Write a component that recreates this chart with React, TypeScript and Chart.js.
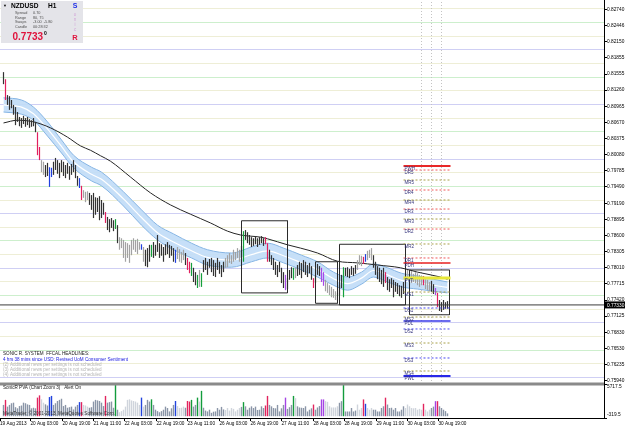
import React, { useEffect, useRef } from 'react';
import { Chart, registerables } from 'chart.js';

Chart.register(...registerables);

const FONT = '"Liberation Sans", Arial, sans-serif';

// ---------- axes ----------
const X_MIN = -1.75;
const X_MAX = 300.25;
const Y_MAX = 0.8291;
const Y_MIN = 0.75883;
const VOL_MIN = -319.5;
const VOL_MAX = 5717.5;
const ROUND_STEP = 0.0025;

const priceTicks = [
  0.8274, 0.82446, 0.8215, 0.81855, 0.81555, 0.8126, 0.80965, 0.8067, 0.80375, 0.8008,
  0.79785, 0.7949, 0.7919, 0.78895, 0.786, 0.78305, 0.7801, 0.77715, 0.7742, 0.77125,
  0.7683, 0.7653, 0.76235, 0.7594,
];
const volTicks = [VOL_MIN, VOL_MAX];
const firstTimeLabel = '19 Aug 2013';
const timeTickIdx = [13.5, 29.5, 45, 60.5, 76.5, 92, 108, 123.5, 139, 155, 170.5, 186.5, 202, 217.5];
const timeTickLabels = [
  '20 Aug 03:00', '20 Aug 19:00', '21 Aug 11:00', '22 Aug 03:00', '22 Aug 19:00', '23 Aug 11:00',
  '26 Aug 03:00', '26 Aug 19:00', '27 Aug 11:00', '28 Aug 03:00', '28 Aug 19:00', '29 Aug 11:00',
  '30 Aug 03:00', '30 Aug 19:00',
];

// ---------- H1 bars (one per hour, index 0 = first bar) ----------
const barHigh = [
  0.8159, 0.8146, 0.8117, 0.8115, 0.8108, 0.8099, 0.8095, 0.8086, 0.8077, 0.8075,
  0.8079, 0.8075, 0.8077, 0.8073, 0.8071, 0.8075, 0.8068, 0.8049, 0.8022, 0.7998,
  0.7995, 0.7989, 0.7993, 0.7985, 0.7984, 0.7995, 0.8002, 0.7998, 0.7993, 0.7998,
  0.7995, 0.7989, 0.7993, 0.7987, 0.7991, 0.7998, 0.7989, 0.7969, 0.7965, 0.7951,
  0.7943, 0.794, 0.7941, 0.7938, 0.7934, 0.7938, 0.793, 0.7929, 0.7932, 0.7925,
  0.792, 0.7903, 0.7894, 0.789, 0.7892, 0.7888, 0.789, 0.7879, 0.7857, 0.7855,
  0.7852, 0.7848, 0.7846, 0.7843, 0.7852, 0.7855, 0.7852, 0.7854, 0.7848, 0.7844,
  0.7839, 0.7834, 0.7837, 0.7843, 0.7843, 0.7848, 0.7843, 0.7861, 0.7846, 0.7844,
  0.7839, 0.7844, 0.7848, 0.7843, 0.7841, 0.7837, 0.7834, 0.7839, 0.7835, 0.783,
  0.7834, 0.7828, 0.7819, 0.7812, 0.781, 0.7801, 0.7793, 0.7788, 0.7797, 0.7791,
  0.7815, 0.7819, 0.7812, 0.7817, 0.7819, 0.7815, 0.781, 0.7819, 0.7812, 0.7806,
  0.7812, 0.7819, 0.7824, 0.7828, 0.7824, 0.7834, 0.783, 0.7837, 0.7834, 0.7841,
  0.7868, 0.787, 0.7866, 0.7861, 0.7857, 0.7855, 0.7859, 0.7855, 0.7857, 0.7859,
  0.7855, 0.7857, 0.7846, 0.7834, 0.7824, 0.7819, 0.7812, 0.7806, 0.7812, 0.7801,
  0.7793, 0.7788, 0.7782, 0.7797, 0.7802, 0.7801, 0.7801, 0.7806, 0.7812, 0.781,
  0.7815, 0.7812, 0.7806, 0.781, 0.7804, 0.7782, 0.7788, 0.7808, 0.7804, 0.7801,
  0.7793, 0.7779, 0.7773, 0.7769, 0.7766, 0.7762, 0.7758, 0.7755, 0.7769, 0.7788,
  0.7802, 0.7801, 0.7802, 0.7799, 0.7804, 0.7801, 0.7806, 0.7815, 0.7824, 0.7823,
  0.7821, 0.7826, 0.7832, 0.7834, 0.7837, 0.7824, 0.7812, 0.7804, 0.7801, 0.7797,
  0.7801, 0.7793, 0.7784, 0.778, 0.7782, 0.7779, 0.7775, 0.7773, 0.7769, 0.7768,
  0.7775, 0.7793, 0.7797, 0.7791, 0.7795, 0.779, 0.7793, 0.7791, 0.7788, 0.7786,
  0.7786, 0.778, 0.7779, 0.7775, 0.7777, 0.7771, 0.7764, 0.7755, 0.7742, 0.7738,
  0.7742, 0.7738, 0.774,
];
const barLow = [
  0.8137, 0.8108, 0.8099, 0.809, 0.8093, 0.8081, 0.8062, 0.8068, 0.806, 0.8057,
  0.8064, 0.8059, 0.8062, 0.8057, 0.8059, 0.806, 0.8049, 0.8007, 0.7998, 0.7976,
  0.7971, 0.7967, 0.7969, 0.7949, 0.7967, 0.7971, 0.798, 0.7973, 0.7965, 0.7976,
  0.7969, 0.7965, 0.7973, 0.7962, 0.7971, 0.7976, 0.7965, 0.7951, 0.7947, 0.7925,
  0.7929, 0.7921, 0.7925, 0.7916, 0.7907, 0.7892, 0.7898, 0.7903, 0.7888, 0.7892,
  0.7898, 0.7883, 0.787, 0.7866, 0.7874, 0.7868, 0.7872, 0.7846, 0.7834, 0.7837,
  0.7819, 0.7812, 0.7819, 0.781, 0.7824, 0.7834, 0.783, 0.7826, 0.7834, 0.7834,
  0.7812, 0.7804, 0.7802, 0.7812, 0.7821, 0.7819, 0.7823, 0.783, 0.7819, 0.7823,
  0.7812, 0.7824, 0.7826, 0.7819, 0.7823, 0.7812, 0.781, 0.7817, 0.7812, 0.781,
  0.7815, 0.7806, 0.7797, 0.7791, 0.7786, 0.7775, 0.7769, 0.7764, 0.7766, 0.7766,
  0.7793, 0.7797, 0.7788, 0.7801, 0.7793, 0.7786, 0.7784, 0.7797, 0.779, 0.7784,
  0.7793, 0.7801, 0.7802, 0.781, 0.7808, 0.7812, 0.7815, 0.7819, 0.7812, 0.7819,
  0.7812, 0.7852, 0.7846, 0.7843, 0.7839, 0.7841, 0.7844, 0.7839, 0.7843, 0.7846,
  0.7841, 0.7844, 0.7812, 0.7812, 0.7806, 0.7797, 0.7788, 0.7784, 0.7793, 0.7773,
  0.7764, 0.776, 0.7762, 0.7779, 0.7782, 0.7779, 0.7782, 0.7786, 0.7788, 0.7782,
  0.7793, 0.7788, 0.7784, 0.7791, 0.7779, 0.7764, 0.7773, 0.7788, 0.7786, 0.7775,
  0.7768, 0.7758, 0.7755, 0.7751, 0.7747, 0.7746, 0.7742, 0.774, 0.7751, 0.7764,
  0.7747, 0.7786, 0.7784, 0.7782, 0.7788, 0.7786, 0.779, 0.7797, 0.7806, 0.7804,
  0.7808, 0.7812, 0.7815, 0.7819, 0.7815, 0.7801, 0.7788, 0.778, 0.7775, 0.7771,
  0.7766, 0.7773, 0.776, 0.7757, 0.7764, 0.7747, 0.7757, 0.7753, 0.7749, 0.7746,
  0.7753, 0.7773, 0.7779, 0.7769, 0.7773, 0.7775, 0.7773, 0.7769, 0.7766, 0.7769,
  0.7769, 0.7762, 0.776, 0.7758, 0.7757, 0.7753, 0.7751, 0.7729, 0.7722, 0.772,
  0.7724, 0.7726, 0.7726,
];
// PVA class per bar: n normal, l light, r red climax, g green climax, b blue, p purple
const barClass =
  'nrnnnnnnnn' + 'nnnnnnnrrl' + 'lnnbbnnnnn' + 'nnnnnnnnbr' + 'lllnnnnnnn' +
  'nrnnnngnll' + 'lllllllllb' + 'lnnngnnnnn' + 'nnnnnnblll' + 'lnrrgnnglg' +
  'nnnnnnnnnn' + 'nlllllllln' + 'gnnnnnnnnn' + 'nrrnnnnnnn' + 'npnnnglnnn' +
  'nnnnnrnnnp' + 'plllllllnn' + 'gnnnnnnlll' + 'rblllnnnnn' + 'nrnnnnnnnn' +
  'nlllllllll' + 'rlllnnprnn' + 'nnn';
const volume = [
  2000, 2900, 1700, 2000, 2300, 2400, 1600, 1400, 1800, 1900,
  2400, 2300, 2100, 2000, 1400, 1500, 1400, 3300, 3700, 3000,
  2400, 2100, 1900, 3400, 3600, 2000, 2300, 2700, 2900, 3100,
  1800, 2000, 1500, 1600, 1700, 1200, 1700, 2000, 2500, 2500,
  2000, 1900, 1700, 1500, 1600, 2600, 2900, 2800, 2700, 2400,
  1800, 3600, 2400, 2500, 2600, 1500, 5650, 1150, 700, 900,
  1150, 1700, 2900, 3000, 2800, 2700, 2600, 2400, 2000, 3300,
  1700, 2000, 2900, 2600, 3000, 2000, 1150, 900, 700, 900,
  1150, 1700, 1450, 850, 1400, 2000, 2700, 1800, 1450, 1500,
  1700, 1500, 2700, 2600, 2900, 1700, 2000, 3300, 2600, 4500,
  1500, 1000, 850, 1150, 600, 800, 850, 1450, 1150, 1650,
  1200, 1100, 1450, 1000, 1450, 1300, 850, 1150, 1450, 1650,
  2500, 1750, 1150, 1500, 1750, 1450, 1700, 1100, 1150, 1750,
  1450, 1900, 3600, 2000, 1750, 1450, 1400, 2000, 850, 1400,
  2000, 3300, 1300, 1600, 2000, 3600, 3200, 1750, 1550, 1500,
  1460, 1760, 840, 1150, 1400, 2070, 1150, 1550, 1800, 2980,
  2980, 2670, 2550, 1760, 1550, 1550, 1550, 1760, 2380, 2670,
  5700, 840, 840, 840, 1460, 840, 1000, 2070, 1150, 1460,
  2980, 2200, 1460, 1150, 1460, 1150, 1150, 840, 840, 1460,
  1760, 3290, 2070, 1460, 1500, 1150, 1460, 840, 840, 1150,
  1760, 1460, 2070, 1760, 1460, 1400, 1460, 1150, 1300, 1150,
  2200, 1150, 840, 1150, 1460, 1700, 2670, 2670, 1760, 1460,
  1150, 900, 500,
];
const currentPrice = 0.7733;

// ---------- long moving average (black) ----------
const maIdx = [0, 7, 15, 23.5, 32, 38.5, 43.5, 48.5, 53.5, 63.5, 73.5, 83.5, 93.5, 103.5, 112, 118.5, 128.5, 132, 142, 148.5, 157, 167, 177, 187, 198.5, 207, 218.5, 222];
const maVal = [0.8066, 0.8071, 0.8068, 0.8057, 0.804, 0.8024, 0.8016, 0.8006, 0.7996, 0.7967, 0.7938, 0.7916, 0.7899, 0.7883, 0.7868, 0.7861, 0.7857, 0.7854, 0.7843, 0.7837, 0.7828, 0.7813, 0.781, 0.7806, 0.7801, 0.7793, 0.7784, 0.778];

// ---------- dragon band (EMA high / close / low) ----------
const bandIdx = [0, 9, 15, 22, 29, 35, 44, 49, 60, 69, 77, 85, 94, 102, 114, 124, 132, 140, 149, 157, 165, 172, 179, 185, 192, 199, 207, 215, 222];
const bandUpper = [0.8112, 0.8108, 0.8095, 0.8068, 0.8035, 0.8007, 0.7985, 0.7976, 0.794, 0.7907, 0.7879, 0.7863, 0.7846, 0.7834, 0.7828, 0.7839, 0.7846, 0.7837, 0.7824, 0.7812, 0.7793, 0.7784, 0.7793, 0.7808, 0.7801, 0.7791, 0.7786, 0.778, 0.7775];
const bandMid = [0.8099, 0.8095, 0.8083, 0.8055, 0.8023, 0.7995, 0.7972, 0.7963, 0.7927, 0.7893, 0.7865, 0.7848, 0.7832, 0.782, 0.7815, 0.7825, 0.7832, 0.7823, 0.781, 0.7798, 0.7781, 0.7772, 0.7782, 0.7796, 0.7788, 0.7778, 0.7774, 0.7769, 0.7765];
const bandLower = [0.8086, 0.8082, 0.8071, 0.8042, 0.8011, 0.7984, 0.796, 0.7951, 0.7914, 0.7879, 0.7852, 0.7834, 0.7819, 0.7806, 0.7802, 0.7812, 0.7819, 0.781, 0.7797, 0.7784, 0.7769, 0.776, 0.7771, 0.7784, 0.7775, 0.7766, 0.7762, 0.7758, 0.7755];

// ---------- consolidation boxes ----------
const boxStart = [119, 156, 168, 203];
const boxEnd = [142, 167, 201, 223];
const boxTop = [0.7887, 0.7812, 0.7844, 0.7797];
const boxBottom = [0.7755, 0.7736, 0.7733, 0.7715];

// ---------- daily / weekly pivot levels ----------
const levelStart = 200;
const levelEnd = 223.5;
const levelNames = ['PWH', 'DR5', 'MR5', 'DR4', 'MR4', 'DR3', 'MR3', 'DR2', 'MR2', 'DR1', 'PDH', 'PVT', 'MS1', 'DS1', 'MS2', 'PDL', 'DS2', 'MS3', 'DS3', 'MS4', 'PWL'];
const levelValues = [0.79872, 0.79799, 0.79616, 0.79433, 0.7925, 0.79085, 0.78902, 0.78719, 0.78445, 0.78189, 0.78097, 0.77823, 0.77566, 0.77274, 0.77109, 0.77036, 0.7689, 0.76633, 0.76359, 0.76121, 0.76029];
const levelKinds = ['wh', 'dr', 'mr', 'dr', 'mr', 'dr', 'mr', 'dr', 'mr', 'dr', 'pdh', 'pvt', 'ms', 'ds', 'ms', 'pdl', 'ds', 'ms', 'ds', 'ms', 'wl'];
const newsLineIdx = [209, 214, 219];

// ---------- texts ----------
const infoSymbol = 'NZDUSD';
const infoPeriod = 'H1';
const infoRows = [['Spread', '0.70'], ['Range', '80, 75'], ['Swaps', '-3.00  -5.80'], ['Candle', '00:28:32']];
const infoPrice = '0.7733';
const infoPriceLast = '0';
const sonicLetters = ['S', 'o', 'n', 'i', 'c', 'R'];
const headlineTitle = 'SONIC R. SYSTEM  FFCAL HEADLINES:';
const headlineMain = '4 hrs 38 mins since USD: Revised UoM Consumer Sentiment';
const headlineOthers = [
  '(2) Additional news per settings is not scheduled',
  '(3) Additional news per settings is not scheduled',
  '(4) Additional news per settings is not scheduled',
];
const volTitle = 'SonicR PVA (Chart Zoom 3)   Alert On';
const copyright = 'MetaTrader, \u00a9 2001-2013, MetaQuotes Software Corp.';

// ---------- styles ----------
const mainColors: Record<string, string> = { n: '#333333', l: '#a2a2a2', r: '#e2205e', g: '#14a03c', b: '#2040e0', p: '#a848ea' };
const volColors: Record<string, string> = { n: '#8a95a7', l: '#cfd4dc', r: '#e2245e', g: '#139c3c', b: '#2244dd', p: '#a444e4' };
const levelStyle: Record<string, { c: string; w: number; d: number[] }> = {
  wh: { c: '#e82828', w: 2, d: [] },
  dr: { c: '#f05a5a', w: 1, d: [2, 2] },
  mr: { c: '#a8a048', w: 1, d: [2, 2] },
  pdh: { c: '#e82020', w: 1.5, d: [] },
  pvt: { c: '#e8e838', w: 3, d: [] },
  ms: { c: '#a8a048', w: 1, d: [2, 2] },
  ds: { c: '#4848f0', w: 1, d: [2, 2] },
  pdl: { c: '#3838e8', w: 1.5, d: [] },
  wl: { c: '#2828e8', w: 2, d: [] },
};
const roundColor = (k: number) => (k % 4 === 0 ? '#cfcff4' : k % 4 === 2 ? '#cdefcd' : '#eeeed6');

const lineBase = { type: 'line' as const, pointRadius: 0, pointHitRadius: 0, fill: false, xAxisID: 'x', yAxisID: 'y' };

function buildDatasets(): any[] {
  const ds: any[] = [];
  levelNames.forEach((name, k) => {
    const st = levelStyle[levelKinds[k]];
    ds.push({ ...lineBase, label: name, data: [{ x: levelStart, y: levelValues[k] }, { x: levelEnd, y: levelValues[k] }], borderColor: st.c, borderWidth: st.w, borderDash: st.d, order: 1 });
  });
  boxStart.forEach((s, k) => {
    const e = boxEnd[k], t = boxTop[k], b = boxBottom[k];
    ds.push({ ...lineBase, label: 'box' + k, data: [{ x: s, y: t }, { x: e, y: t }, { x: e, y: b }, { x: s, y: b }, { x: s, y: t }], borderColor: '#2a2a2a', borderWidth: 1, order: 2 });
  });
  ds.push({ ...lineBase, label: 'bid', data: [{ x: X_MIN, y: currentPrice }, { x: X_MAX, y: currentPrice }], borderColor: '#3c3c3c', borderWidth: 1, order: 2 });
  ds.push({
    type: 'bar', label: 'price', xAxisID: 'x', yAxisID: 'y',
    data: barHigh.map((h, i) => ({ x: i, y: [barLow[i], h] })),
    backgroundColor: (c: any) => mainColors[barClass[c.dataIndex]] || mainColors.n,
    barThickness: 1.2, grouped: false, borderWidth: 0, inflateAmount: 0, order: 3,
  });
  ds.push({
    type: 'bar', label: 'volume', xAxisID: 'x', yAxisID: 'yVol',
    data: volume.map((v, i) => ({ x: i, y: v })),
    backgroundColor: (c: any) => volColors[barClass[c.dataIndex]] || volColors.n,
    barThickness: 1.4, grouped: false, borderWidth: 0, inflateAmount: 0, order: 3,
  });
  ds.push({ ...lineBase, label: 'ma', data: maIdx.map((x, k) => ({ x, y: maVal[k] })), borderColor: '#262626', borderWidth: 1, cubicInterpolationMode: 'monotone', order: 4 });
  ds.push({ ...lineBase, label: 'mid', data: bandIdx.map((x, k) => ({ x, y: bandMid[k] })), borderColor: '#ffffff', borderWidth: 1.2, cubicInterpolationMode: 'monotone', order: 5 });
  ds.push({ ...lineBase, label: 'upper', data: bandIdx.map((x, k) => ({ x, y: bandUpper[k] })), borderColor: '#86b5e4', borderWidth: 1, cubicInterpolationMode: 'monotone', fill: '+1', backgroundColor: 'rgba(192,219,247,0.9)', order: 7 });
  ds.push({ ...lineBase, label: 'lower', data: bandIdx.map((x, k) => ({ x, y: bandLower[k] })), borderColor: '#86b5e4', borderWidth: 1, cubicInterpolationMode: 'monotone', order: 6 });
  newsLineIdx.forEach((x, k) => {
    ds.push({ ...lineBase, label: 'news' + k, data: [{ x, y: Y_MIN }, { x, y: Y_MAX }], borderColor: '#c4c4c4', borderWidth: 1, borderDash: [1, 2], order: 9 });
  });
  return ds;
}

const overlay = {
  id: 'overlay',
  afterDraw(chart: any) {
    const { ctx, scales, chartArea } = chart;
    const xs = scales.x, ys = scales.y, vs = scales.yVol;
    ctx.save();
    ctx.textAlign = 'left';

    ctx.font = `4.5px ${FONT}`;
    ctx.fillStyle = '#34347c';
    ctx.textBaseline = 'top';
    const lx = xs.getPixelForValue(levelStart) + 1;
    levelNames.forEach((n, k) => ctx.fillText(n, lx, ys.getPixelForValue(levelValues[k]) + 0.5));

    ctx.textBaseline = 'middle';
    ctx.font = `4.6px ${FONT}`;
    ctx.fillStyle = '#1a1a1a';
    ctx.fillText(headlineTitle, 3, 354);
    ctx.fillStyle = '#1a1ae0';
    ctx.fillText(headlineMain, 3, 360);
    ctx.fillStyle = '#b4b4b4';
    headlineOthers.forEach((t, k) => ctx.fillText(t, 3, 365 + k * 5));

    ctx.fillStyle = '#8a8a8a';
    ctx.fillRect(chartArea.left, vs.top - 1.5, chartArea.width, 3);

    ctx.font = `4.6px ${FONT}`;
    ctx.fillStyle = '#1a1a1a';
    ctx.fillText(volTitle, 3, vs.top + 4);
    ctx.fillStyle = '#333333';
    ctx.fillText(copyright, 3, vs.bottom - 4);

    const py = ys.getPixelForValue(currentPrice);
    ctx.fillStyle = '#000';
    ctx.fillRect(ys.left, py - 3.5, ys.width, 7);
    ctx.fillStyle = '#fff';
    ctx.font = `4.8px ${FONT}`;
    ctx.fillText(currentPrice.toFixed(5), ys.left + 3, py + 0.3);

    ctx.fillStyle = '#e4e4e9';
    ctx.fillRect(1, 1, 82, 42);
    ctx.fillStyle = '#000';
    ctx.font = `bold 4px ${FONT}`;
    ctx.fillText('\u25BC', 3, 5.5);
    ctx.font = `bold 6.6px ${FONT}`;
    ctx.fillText(infoSymbol, 11, 5.8);
    ctx.fillText(infoPeriod, 48, 5.8);
    ctx.font = `3.8px ${FONT}`;
    ctx.fillStyle = '#505050';
    infoRows.forEach((r, k) => {
      ctx.fillText(r[0], 15, 13.3 + k * 4.5);
      ctx.fillText(r[1], 33, 13.3 + k * 4.5);
    });
    ctx.fillStyle = '#e0123c';
    ctx.font = `bold 10px ${FONT}`;
    ctx.fillText(infoPrice, 12.5, 37);
    const pw = ctx.measureText(infoPrice).width;
    ctx.fillStyle = '#000';
    ctx.font = `bold 5px ${FONT}`;
    ctx.fillText(infoPriceLast, 12.5 + pw + 1, 33.5);
    ctx.textAlign = 'center';
    const letterY = [6, 15, 20, 25, 30, 37.5];
    sonicLetters.forEach((l, k) => {
      if (k === 0) { ctx.fillStyle = '#1e2ee8'; ctx.font = `bold 7px ${FONT}`; }
      else if (k === sonicLetters.length - 1) { ctx.fillStyle = '#e0123c'; ctx.font = `bold 7.5px ${FONT}`; }
      else { ctx.fillStyle = '#d2a6d8'; ctx.font = `4.5px ${FONT}`; }
      ctx.fillText(l, 75, letterY[k]);
    });
    ctx.restore();
  },
};

export default function App() {
  const ref = useRef<HTMLCanvasElement>(null);
  useEffect(() => {
    document.body.style.margin = '0';
    const canvas = ref.current!;
    const tickFont = { family: FONT, size: 4.8 };
    const chart = new Chart(canvas, {
      type: 'bar',
      data: { datasets: buildDatasets() },
      plugins: [overlay],
      options: {
        responsive: false,
        maintainAspectRatio: false,
        devicePixelRatio: 1,
        animation: false,
        events: [],
        layout: { padding: 0 },
        plugins: { legend: { display: false }, tooltip: { enabled: false } },
        scales: {
          x: {
            type: 'linear', min: X_MIN, max: X_MAX, offset: false, position: 'bottom',
            afterBuildTicks: (s: any) => { s.ticks = [{ value: X_MIN }, ...timeTickIdx.map((v) => ({ value: v }))]; },
            afterFit: (s: any) => { s.height = 11; s.paddingLeft = 0; s.paddingRight = 0; },
            ticks: {
              autoSkip: false, maxRotation: 0, minRotation: 0, align: 'start', padding: 0, color: '#000',
              font: { family: FONT, size: 4.7 },
              callback: (_v: any, i: number) => (i === 0 ? firstTimeLabel : timeTickLabels[i - 1]),
            },
            grid: { display: true, drawOnChartArea: false, drawTicks: true, tickLength: 3, tickColor: '#000', offset: false },
            border: { display: true, color: '#000', width: 1 },
          },
          y: {
            type: 'linear', position: 'right', min: Y_MIN, max: Y_MAX, beginAtZero: false,
            stack: 'pane', stackWeight: 384,
            afterBuildTicks: (s: any) => {
              const t: any[] = [];
              for (let k = Math.ceil(Y_MIN / ROUND_STEP); k * ROUND_STEP <= Y_MAX; k++) t.push({ value: k * ROUND_STEP, round: true, k });
              priceTicks.forEach((v) => t.push({ value: v }));
              t.sort((a, b) => a.value - b.value);
              s.ticks = t;
            },
            afterFit: (s: any) => { s.width = 21; s.paddingTop = 0; s.paddingBottom = 0; },
            ticks: {
              autoSkip: false, padding: 0, color: '#000', font: tickFont,
              callback: (v: any, i: number, t: any[]) => (t[i] && t[i].round ? '' : Number(v).toFixed(5)),
            },
            grid: {
              drawOnChartArea: true, drawTicks: true, tickLength: 3, lineWidth: 1,
              color: (c: any) => (c.tick && c.tick.round ? roundColor(c.tick.k) : 'rgba(0,0,0,0)'),
              tickColor: (c: any) => (c.tick && c.tick.round ? 'rgba(0,0,0,0)' : '#000'),
            },
            border: { display: true, color: '#000', width: 1 },
          },
          yVol: {
            type: 'linear', position: 'right', min: VOL_MIN, max: VOL_MAX, beginAtZero: false,
            stack: 'pane', stackWeight: 34,
            afterBuildTicks: (s: any) => { s.ticks = volTicks.map((v) => ({ value: v })); },
            afterFit: (s: any) => { s.width = 21; s.paddingTop = 0; s.paddingBottom = 0; },
            ticks: {
              autoSkip: false, padding: 0, color: '#000', font: tickFont,
              callback: (v: any) => (Number(v) > 0 ? ['', Number(v).toFixed(1)] : [Number(v).toFixed(1), '']),
            },
            grid: { drawOnChartArea: false, drawTicks: true, tickLength: 3, tickColor: '#000' },
            border: { display: true, color: '#000', width: 1 },
          },
        },
      } as any,
    });
    return () => chart.destroy();
  }, []);
  return <canvas ref={ref} width={625} height={429} style={{ display: 'block', width: 625, height: 429 }} />;
}
